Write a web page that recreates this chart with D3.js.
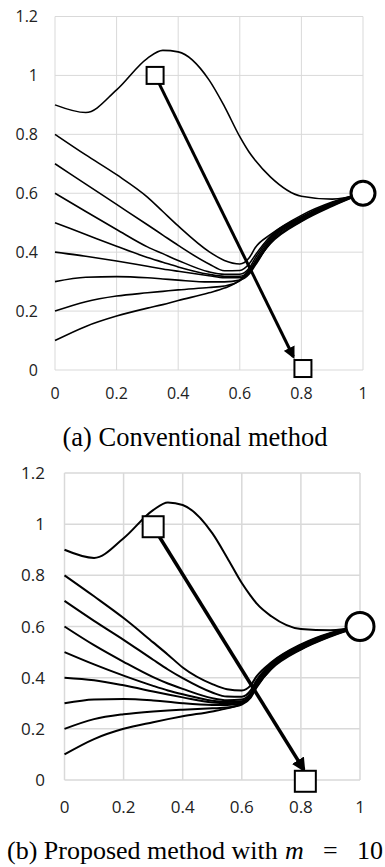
<!DOCTYPE html>
<html>
<head>
<meta charset="utf-8">
<script src="https://cdn.jsdelivr.net/npm/d3@7"></script>
<style>
  body { margin: 0; background: #fff; }
  svg { display: block; }
</style>
</head>
<body>
<div id="chart"></div>
<script>
// shared x positions where the trajectories were sampled
var xSamples = [0, 0.1, 0.2, 0.3, 0.35, 0.4, 0.5, 0.55, 0.6, 0.63, 0.65, 0.7, 0.8, 0.9, 1];
var xTicks = [0, 0.2, 0.4, 0.6, 0.8, 1];
var yTicks = [0, 0.2, 0.4, 0.6, 0.8, 1, 1.2];

// (a) conventional method
var curvesA = [
    [0.9, 0.874, 0.951, 1.058, 1.085, 1.08, 0.985, 0.895, 0.792, 0.74, 0.712, 0.655, 0.59, 0.58, 0.6],
    [0.8, 0.73, 0.663, 0.587, 0.538, 0.489, 0.402, 0.372, 0.36, 0.38, 0.415, 0.46, 0.525, 0.57, 0.6],
    [0.7, 0.631, 0.562, 0.493, 0.458, 0.423, 0.36, 0.337, 0.338, 0.36, 0.39, 0.455, 0.52, 0.568, 0.6],
    [0.6, 0.538, 0.477, 0.418, 0.395, 0.372, 0.333, 0.325, 0.325, 0.345, 0.38, 0.45, 0.517, 0.566, 0.6],
    [0.5, 0.46, 0.42, 0.382, 0.366, 0.35, 0.325, 0.318, 0.318, 0.335, 0.37, 0.445, 0.514, 0.564, 0.6],
    [0.4, 0.386, 0.37, 0.352, 0.343, 0.335, 0.32, 0.313, 0.313, 0.33, 0.362, 0.44, 0.511, 0.562, 0.6],
    [0.3, 0.315, 0.317, 0.313, 0.309, 0.305, 0.299, 0.299, 0.305, 0.325, 0.355, 0.435, 0.508, 0.56, 0.6],
    [0.2, 0.232, 0.251, 0.262, 0.267, 0.272, 0.28, 0.285, 0.303, 0.33, 0.36, 0.432, 0.506, 0.558, 0.6],
    [0.1, 0.148, 0.183, 0.21, 0.222, 0.236, 0.262, 0.278, 0.305, 0.34, 0.365, 0.43, 0.504, 0.556, 0.6]
];
var startA = [0.325, 1.0], endA = [0.805, 0.005], tipA = [0.774, 0.045], goalA = [1.0, 0.6];

// (b) proposed method, m = 10
var curvesB = [
    [0.9, 0.868, 0.945, 1.055, 1.085, 1.075, 0.965, 0.87, 0.77, 0.72, 0.69, 0.64, 0.59, 0.585, 0.6],
    [0.8, 0.718, 0.633, 0.538, 0.49, 0.44, 0.375, 0.355, 0.35, 0.37, 0.405, 0.46, 0.53, 0.575, 0.6],
    [0.7, 0.622, 0.548, 0.47, 0.432, 0.398, 0.342, 0.326, 0.325, 0.35, 0.39, 0.456, 0.527, 0.573, 0.6],
    [0.6, 0.527, 0.462, 0.402, 0.377, 0.356, 0.32, 0.312, 0.315, 0.34, 0.382, 0.452, 0.524, 0.571, 0.6],
    [0.5, 0.452, 0.408, 0.368, 0.35, 0.335, 0.31, 0.305, 0.308, 0.335, 0.376, 0.448, 0.521, 0.569, 0.6],
    [0.4, 0.39, 0.37, 0.346, 0.334, 0.323, 0.303, 0.3, 0.303, 0.33, 0.37, 0.444, 0.518, 0.567, 0.6],
    [0.3, 0.315, 0.317, 0.311, 0.306, 0.3, 0.293, 0.293, 0.3, 0.326, 0.366, 0.44, 0.515, 0.565, 0.6],
    [0.2, 0.238, 0.257, 0.268, 0.272, 0.275, 0.28, 0.283, 0.295, 0.322, 0.362, 0.437, 0.512, 0.563, 0.6],
    [0.1, 0.16, 0.2, 0.226, 0.238, 0.249, 0.268, 0.28, 0.3, 0.335, 0.368, 0.434, 0.51, 0.561, 0.6]
];
var startB = [0.3, 0.99], endB = [0.815, -0.005], tipB = [0.81, 0.04], goalB = [1.0, 0.6];

var svg = d3.select("#chart").append("svg").attr("width", 385).attr("height", 867);

var defs = svg.append("defs");
defs.append("marker").attr("id", "head").attr("viewBox", "0 0 10 10")
    .attr("refX", 8).attr("refY", 5).attr("markerWidth", 4).attr("markerHeight", 4)
    .attr("orient", "auto").attr("markerUnits", "strokeWidth")
    .append("path").attr("d", "M0,0 L10,5 L0,10 Z").attr("fill", "#000");

function drawPanel(p) {
    var x = d3.scaleLinear().domain([0, 1]).range([p.left, p.right]);
    var y = d3.scaleLinear().domain([0, 1.2]).range([p.bottom, p.top]);
    var g = svg.append("g");

    // gridlines
    g.selectAll(".vg").data(xTicks).enter().append("line")
        .attr("x1", function (d) { return x(d); }).attr("x2", function (d) { return x(d); })
        .attr("y1", y(0)).attr("y2", y(1.2))
        .style("stroke", "#d9d9d9").style("stroke-width", p.grid);
    g.selectAll(".hg").data(yTicks).enter().append("line")
        .attr("x1", x(0)).attr("x2", x(1))
        .attr("y1", function (d) { return y(d); }).attr("y2", function (d) { return y(d); })
        .style("stroke", "#d9d9d9").style("stroke-width", p.grid);

    // tick labels
    g.selectAll(".xl").data(xTicks).enter().append("text")
        .attr("x", function (d) { return x(d); }).attr("y", p.xLabelY)
        .attr("text-anchor", "middle").style("font", p.tickFont).style("fill", "#222")
        .text(function (d) { return d; });
    g.selectAll(".yl").data(yTicks).enter().append("text")
        .attr("x", p.yLabelX).attr("y", function (d) { return y(d) + p.yShift; })
        .attr("text-anchor", "end").style("font", p.tickFont).style("fill", "#222")
        .text(function (d) { return d; });

    // trajectories
    var line = d3.line()
        .x(function (d, i) { return x(xSamples[i]); })
        .y(function (d) { return y(d); })
        .curve(d3.curveMonotoneX);
    g.selectAll(".traj").data(p.curves).enter().append("path")
        .attr("d", line).style("fill", "none").style("stroke", "#000")
        .style("stroke-width", p.lineW).style("stroke-linejoin", "round");

    // arrow from start to end
    g.append("line")
        .attr("x1", x(p.start[0])).attr("y1", y(p.start[1]))
        .attr("x2", x(p.tip[0])).attr("y2", y(p.tip[1]))
        .style("stroke", "#000").style("stroke-width", p.arrowW)
        .attr("marker-end", "url(#head)");

    // squares
    g.selectAll(".sq").data([p.start, p.end]).enter().append("rect")
        .attr("x", function (d) { return x(d[0]) - p.sq / 2; })
        .attr("y", function (d) { return y(d[1]) - p.sq / 2; })
        .attr("width", p.sq).attr("height", p.sq)
        .style("fill", "#fff").style("stroke", "#000").style("stroke-width", 2);

    // goal circle
    g.append("circle").attr("cx", x(p.goal[0])).attr("cy", y(p.goal[1])).attr("r", p.r)
        .style("fill", "#fff").style("stroke", "#000").style("stroke-width", 3);
}

drawPanel({
    left: 55, right: 363, bottom: 370, top: 16.5, grid: 1,
    xLabelY: 399, yLabelX: 38, yShift: 5.7, tickFont: "16px 'Open Sans'",
    curves: curvesA, lineW: 1.6, arrowW: 3,
    start: startA, end: endA, tip: tipA, goal: goalA, sq: 17, r: 12
});
drawPanel({
    left: 64.5, right: 360, bottom: 780, top: 473, grid: 1.5,
    xLabelY: 813, yLabelX: 45, yShift: 6, tickFont: "17px 'Open Sans'",
    curves: curvesB, lineW: 2, arrowW: 3.5,
    start: startB, end: endB, tip: tipB, goal: goalB, sq: 21, r: 14
});

// captions
svg.append("text").attr("x", 195).attr("y", 446).attr("text-anchor", "middle")
    .style("font", "26.5px 'Liberation Serif'").text("(a) Conventional method");
var capB = svg.append("text").attr("y", 859).style("font", "26px 'Liberation Serif'");
capB.append("tspan").attr("x", 7).text("(b) Proposed method with");
capB.append("tspan").attr("x", 285).style("font-style", "italic").text("m");
capB.append("tspan").attr("x", 323).text("=");
capB.append("tspan").attr("x", 357).text("10");
</script>
</body>
</html>
